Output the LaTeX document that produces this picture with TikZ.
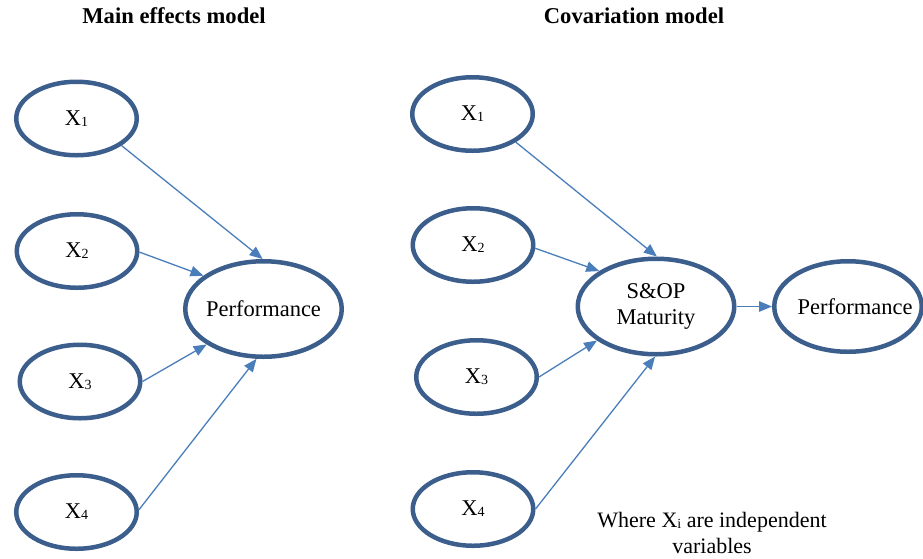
\documentclass[tikz,border=0pt]{standalone}
\usepackage{fontspec}
\setmainfont{Liberation Serif}
\usetikzlibrary{shapes.geometric,arrows.meta}
\definecolor{ellcol}{HTML}{3B5E8C}
\definecolor{arrcol}{HTML}{4A7EBB}
\newcommand{\sbx}[1]{{\fontsize{14}{14}\selectfont\raisebox{-1.2pt}{#1}}}
\begin{document}
\begin{tikzpicture}[x=1pt,y=-1pt,
  ell/.style={ellipse, draw=ellcol, line width=4.5pt, inner sep=0pt, inner xsep=-25pt, align=center,
    font=\fontsize{22.5}{26}\selectfont},
  small/.style={ell, minimum width=120.5pt, minimum height=73.5pt},
  big/.style={ell, minimum width=156.5pt, minimum height=95.5pt},
  arr/.style={draw=arrcol, line width=1.3pt, -{Triangle[length=13pt,width=10.5pt]}, arrcol},
  ttl/.style={font=\fontsize{22.6}{26}\selectfont\bfseries},
]
\useasboundingbox (0,0) rectangle (923,558);

\node[ttl] (t1) at (174,16) {Main effects model};
\node[ttl] (t2) at (634,16) {Covariation model};

% left model
\node[small] (a1) at (76.5,118.5) {X\sbx{1}};
\node[small] (a2) at (77,251) {X\sbx{2}};
\node[small] (a3) at (80,381.5) {X\sbx{3}};
\node[small] (a4) at (76.5,512) {X\sbx{4}};
\node[big] (ap) at (263.5,309) {Performance};

\draw[arr] (a1.-31) -- (ap.91);
\draw[arr] (a2.-1) -- (ap.151);
\draw[arr] (a3.0) -- (ap.212);
\draw[arr] (a4.2) -- (ap.262);

% right model
\node[small] (b1) at (472.5,114) {X\sbx{1}};
\node[small] (b2) at (473,245) {X\sbx{2}};
\node[small] (b3) at (476.5,377) {X\sbx{3}};
\node[small] (b4) at (473,509) {X\sbx{4}};
\node[big] (bs) at (656,306.5) {S\&OP\\Maturity};
\node[ell, minimum width=147.5pt, minimum height=90.5pt] (bp) at (848,306.5) {\hspace*{14pt}Performance};

\draw[arr] (b1.-33) -- (bs.89);
\draw[arr] (b2.-3) -- (bs.148);
\draw[arr] (b3.0) -- (bs.210);
\draw[arr] (b4.0) -- (bs.269);
\draw[arr] (bs.0) -- (bp.180);

\node[font=\fontsize{22}{26}\selectfont, align=center] (note) at (712,533)
  {Where X\sbx{i} are independent\\variables};
\end{tikzpicture}
\end{document}
